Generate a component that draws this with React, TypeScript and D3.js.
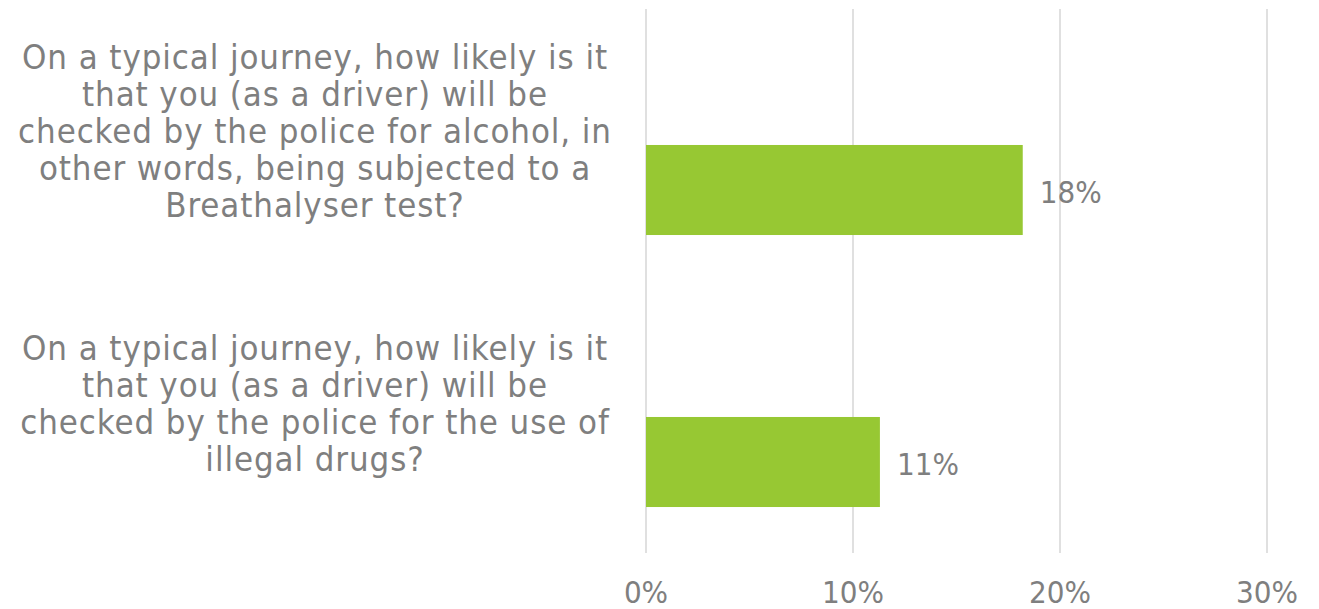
import React from "react";
import * as d3 from "d3";

const categories: string[] = [
  "On a typical journey, how likely is it\nthat you (as a driver) will be\nchecked by the police for alcohol, in\nother words, being subjected to a\nBreathalyser test?",
  "On a typical journey, how likely is it\nthat you (as a driver) will be\nchecked by the police for the use of\nillegal drugs?",
];
const values: number[] = [0.182, 0.113];
const valueLabels: string[] = ["18%", "11%"];
const ticks: number[] = [0, 0.1, 0.2, 0.3];

const W = 1319;
const H = 609;
const FONT = "'DejaVu Sans Condensed', 'DejaVu Sans', sans-serif";
const GREY = "#7f7f7f";

export default function App() {
  const x = d3.scaleLinear().domain([0, 0.3]).range([646, 1267]);
  const y = d3.scaleBand<string>().domain(categories).range([54, 598]).padding(0);
  const barH = y.bandwidth() * 0.331;
  const fmt = d3.format(".0%");
  const lineH = 37;

  return (
    <svg
      width={W}
      height={H}
      style={{ position: "absolute", left: 0, top: 0, background: "#fff" }}
      fontFamily={FONT}
    >
      {ticks.map((t) => (
        <line
          key={"g" + t}
          x1={x(t)}
          x2={x(t)}
          y1={9}
          y2={553}
          stroke="#e0e0e0"
          strokeWidth={2}
        />
      ))}
      {categories.map((c, i) => {
        const cy = (y(c) as number) + y.bandwidth() / 2;
        return (
          <rect
            key={"b" + i}
            x={x(0)}
            y={cy - barH / 2}
            width={x(values[i]) - x(0)}
            height={barH}
            fill="#97c833"
          />
        );
      })}
      {categories.map((c, i) => {
        const cy = (y(c) as number) + y.bandwidth() / 2;
        return (
          <text
            key={"v" + i}
            x={x(values[i]) + 17}
            y={cy + 13}
            fontSize={31}
            fill={GREY}
          >
            {valueLabels[i]}
          </text>
        );
      })}
      {categories.map((c, i) => {
        const cy = (y(c) as number) + y.bandwidth() / 2;
        const lines = c.split("\n");
        const mid = cy - 47;
        const first = mid - ((lines.length - 1) * lineH) / 2;
        return (
          <text
            key={"c" + i}
            fontSize={34.5}
            letterSpacing={0.9}
            fill={GREY}
            textAnchor="middle"
          >
            {lines.map((l, j) => (
              <tspan key={j} x={315} y={first + j * lineH}>
                {l}
              </tspan>
            ))}
          </text>
        );
      })}
      {ticks.map((t) => (
        <text
          key={"t" + t}
          x={x(t)}
          y={602.5}
          fontSize={31}
          fill={GREY}
          textAnchor="middle"
        >
          {fmt(t)}
        </text>
      ))}
    </svg>
  );
}
